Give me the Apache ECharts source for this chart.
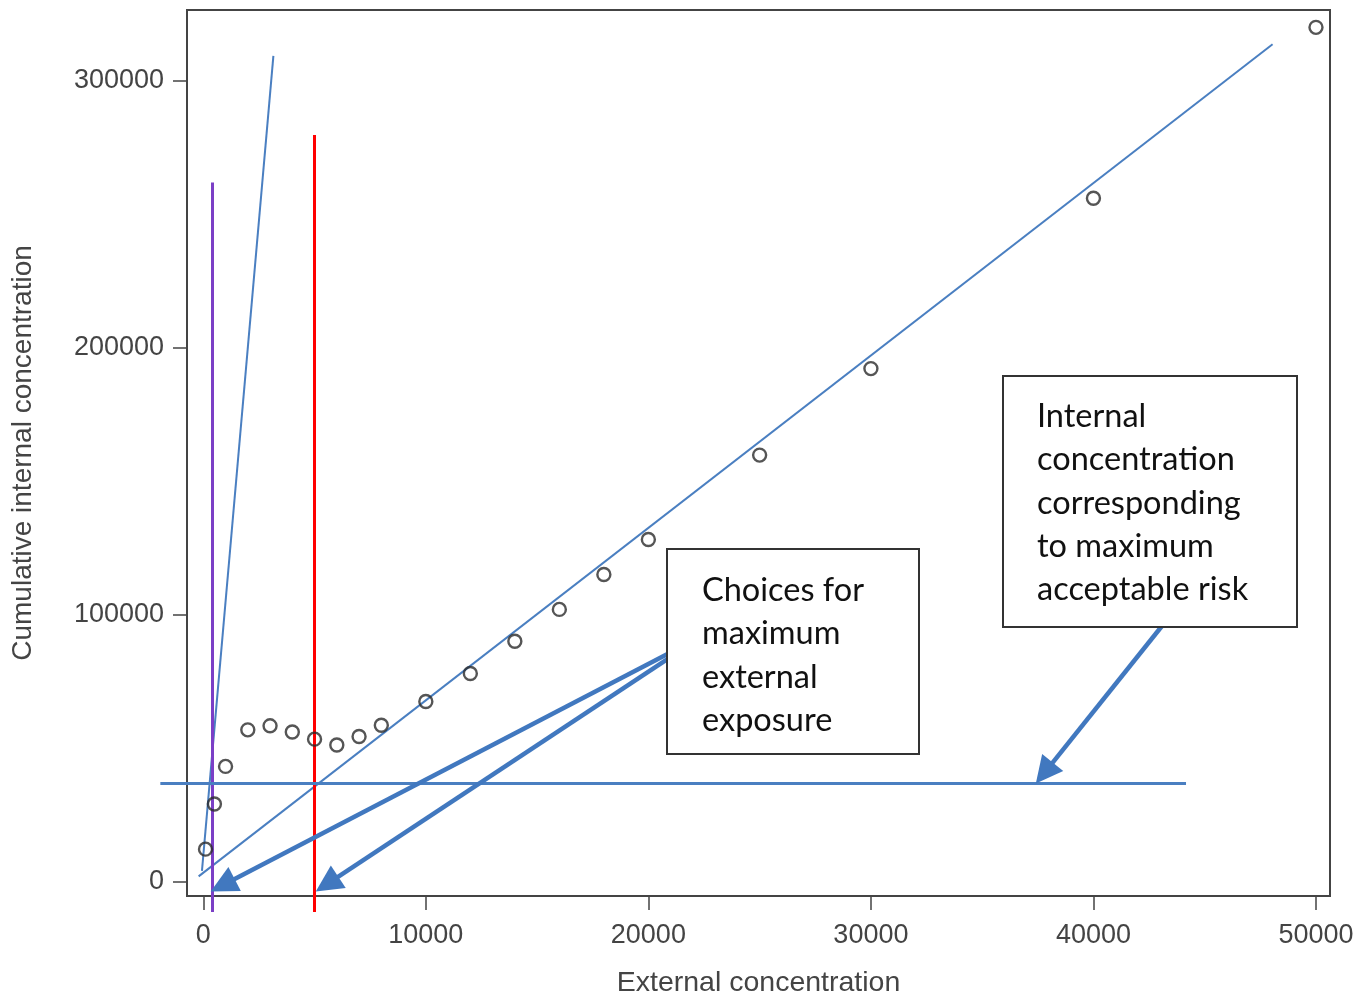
<!DOCTYPE html>
<html><head><meta charset="utf-8">
<script src="https://cdn.jsdelivr.net/npm/echarts@6/dist/echarts.min.js"></script>
<style>html,body{margin:0;padding:0;background:#fff}#c{width:1369px;height:1003px}</style>
</head><body><div id="c"></div>
<script>
// Observed data (external vs cumulative internal concentration)
const xValues = [100, 500, 1000, 2000, 3000, 4000, 5000, 6000, 7000, 8000, 10000, 12000, 14000, 16000, 18000, 20000, 25000, 30000, 40000, 50000];
const yValues = [12300, 29200, 43300, 57000, 58500, 56200, 53500, 51300, 54500, 58700, 67600, 78100, 90200, 102100, 115200, 128300, 159900, 192300, 256100, 320100];
const xTicks = [0, 10000, 20000, 30000, 40000, 50000];
const yTicks = [0, 100000, 200000, 300000];
// Reference lines, as [x, y] endpoints in data units
const fitLine = [[-210, 2100], [48050, 313800]];
const steepLine = [[-60, 4200], [3150, 309400]];
const purpleLine = [[400, -11200], [400, 262000]];
const redLine = [[5000, -11200], [5000, 279800]];
const riskLine = [[-1930, 37000], [44160, 37000]];
// Annotation arrows: [tail, head] in data units
const arrows = [
  [[20840, 85300], [870, -1200]],
  [[20840, 83400], [5560, -800]],
  [[43070, 95800], [37790, 40800]]
];
const box1Lines = ['Choices for', 'maximum', 'external', 'exposure'];
const box2Lines = ['Internal', 'concentration', 'corresponding', 'to maximum', 'acceptable risk'];

const BLUE = '#4a7fc1';
const AXIS = '#444';
const FONT = 'Liberation Sans, Arial, sans-serif';
const chart = echarts.init(document.getElementById('c'));
function lineSeries(data, color, width) {
  return {
    type: 'lines', coordinateSystem: 'cartesian2d', clip: false, silent: true, z: 3,
    data: [{ coords: data }],
    lineStyle: { color: color, width: width, opacity: 1, curveness: 0 }
  };
}
chart.setOption({
  animation: false,
  backgroundColor: '#fff',
  grid: { left: 187, right: 39, top: 10, bottom: 106, show: true, borderColor: AXIS, borderWidth: 2 },
  xAxis: {
    type: 'value', min: -732, max: 50630,
    axisLine: { show: true, onZero: false, lineStyle: { color: AXIS, width: 2 } },
    axisTick: { show: true, length: 14, customValues: xTicks, lineStyle: { color: AXIS, width: 1.5 } },
    axisLabel: { customValues: xTicks, margin: 26, fontSize: 27, color: AXIS, fontFamily: FONT, formatter: v => String(v) },
    splitLine: { show: false },
    name: 'External concentration', nameLocation: 'middle', nameGap: 73,
    nameTextStyle: { fontSize: 28.5, color: AXIS, fontFamily: FONT }
  },
  yAxis: {
    type: 'value', min: -5238, max: 326600,
    axisLine: { show: true, onZero: false, lineStyle: { color: AXIS, width: 2 } },
    axisTick: { show: true, length: 14, customValues: yTicks, lineStyle: { color: AXIS, width: 1.5 } },
    axisLabel: { customValues: yTicks, margin: 23, fontSize: 27, color: AXIS, fontFamily: FONT, formatter: v => String(v) },
    splitLine: { show: false },
    name: 'Cumulative internal concentration', nameLocation: 'middle', nameGap: 150,
    nameTextStyle: { fontSize: 28, color: AXIS, fontFamily: FONT }
  },
  series: [
    lineSeries(fitLine, BLUE, 2),
    lineSeries(steepLine, BLUE, 2),
    lineSeries(purpleLine, '#7b3fc6', 3),
    lineSeries(redLine, '#ff0000', 3),
    lineSeries(riskLine, BLUE, 3),
    {
      type: 'scatter', silent: true, z: 5,
      data: xValues.map((x, i) => [x, yValues[i]]),
      symbol: 'circle', symbolSize: 13,
      itemStyle: { color: 'rgba(0,0,0,0)', borderColor: '#2b2b2b', borderWidth: 2.4 },
      markLine: {
        silent: true, animation: false,
        symbol: ['none', 'triangle'], symbolSize: 27,
        label: { show: false },
        emphasis: { disabled: true },
        lineStyle: { color: '#4178bf', width: 4.5, type: 'solid' },
        data: arrows.map(a => [{ coord: a[0] }, { coord: a[1] }])
      }
    }
  ],
  graphic: [
    { type: 'rect', shape: { x: 667, y: 549, width: 252, height: 205 }, style: { fill: '#fff', stroke: '#333', lineWidth: 2 }, z: 100 },
    { type: 'text', x: 702, y: 569, style: { text: box1Lines.join('\n'), font: '32.5px Lato', fill: '#111', lineHeight: 43.3 }, z: 101 },
    { type: 'rect', shape: { x: 1003, y: 376, width: 294, height: 251 }, style: { fill: '#fff', stroke: '#333', lineWidth: 2 }, z: 100 },
    { type: 'text', x: 1037, y: 395, style: { text: box2Lines.join('\n'), font: '32.5px Lato', fill: '#111', lineHeight: 43.3 }, z: 101 }
  ]
});
</script></body></html>
